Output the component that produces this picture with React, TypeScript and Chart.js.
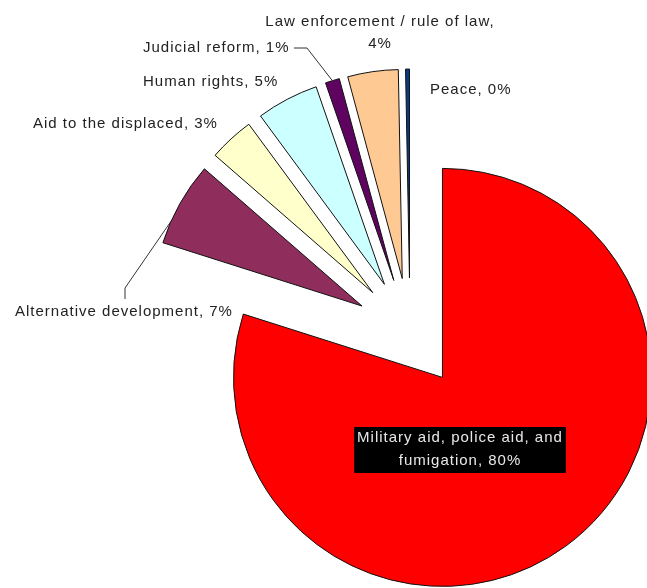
import { useEffect, useRef } from "react";
import { Chart, registerables } from "chart.js";

Chart.register(...registerables);

// ---- data ----
const categories = [
  "Military aid, police aid, and fumigation",
  "Alternative development",
  "Aid to the displaced",
  "Human rights",
  "Judicial reform",
  "Law enforcement / rule of law",
  "Peace",
];
const shares = [79.9, 6.5, 3.5, 4.8, 1.1, 3.9, 0.3];
const percentLabels = ["80%", "7%", "3%", "5%", "1%", "4%", "0%"];
const sliceColors = ["#FF0000", "#8F2D5C", "#FFFFCC", "#CCFFFF", "#5F0360", "#FFC993", "#0A3A80"];

// ---- label layout (annotation positions, not data) ----
type LabelSpec = {
  x: number;
  y: number;
  align: CanvasTextAlign;
  maxWidth: number;
  boxed?: boolean;
  leader?: number[][];
  frac?: number;
};
const labelLayout: LabelSpec[] = [
  { x: 460, y: 438, align: "center", maxWidth: 240, boxed: true },
  { x: 15, y: 312, align: "left", maxWidth: 400, leader: [[125, 299], [125, 288]], frac: 0.27 },
  { x: 33, y: 124, align: "left", maxWidth: 400 },
  { x: 143, y: 82, align: "left", maxWidth: 400 },
  { x: 143, y: 48, align: "left", maxWidth: 400, leader: [[294, 48], [307, 48]], frac: 0.5 },
  { x: 380, y: 22, align: "center", maxWidth: 255 },
  { x: 430, y: 90, align: "left", maxWidth: 400 },
];

const EXPLODE = 55;
const RADIUS = 209;
const FONT = '15px "Liberation Sans", Arial, sans-serif';
const LINE_H = 22;

function wrap(ctx: CanvasRenderingContext2D, text: string, maxWidth: number): string[] {
  const words = text.split(" ");
  const lines: string[] = [];
  let cur = "";
  for (const w of words) {
    const t = cur ? cur + " " + w : w;
    if (cur && ctx.measureText(t).width > maxWidth) {
      lines.push(cur);
      cur = w;
    } else cur = t;
  }
  if (cur) lines.push(cur);
  return lines;
}

const explodePlugin = {
  id: "explode",
  afterDatasetsUpdate(chart: any) {
    const meta = chart.getDatasetMeta(0);
    meta.data.forEach((arc: any) => {
      const mid = (arc.startAngle + arc.endAngle) / 2;
      arc.x += Math.cos(mid) * EXPLODE;
      arc.y += Math.sin(mid) * EXPLODE;
    });
  },
};

const labelPlugin = {
  id: "sliceLabels",
  afterDraw(chart: any) {
    const ctx: CanvasRenderingContext2D = chart.ctx;
    const meta = chart.getDatasetMeta(0);
    ctx.save();
    ctx.font = FONT;
    (ctx as any).letterSpacing = "1px";
    ctx.textBaseline = "middle";
    labelLayout.forEach((spec, i) => {
      const text = `${categories[i]}, ${percentLabels[i]}`;
      const lines = wrap(ctx, text, spec.maxWidth);
      if (spec.leader) {
        const arc = meta.data[i];
        const a = arc.startAngle + (spec.frac ?? 0.5) * (arc.endAngle - arc.startAngle);
        const ex = arc.x + Math.cos(a) * arc.outerRadius;
        const ey = arc.y + Math.sin(a) * arc.outerRadius;
        ctx.beginPath();
        ctx.strokeStyle = "#333";
        ctx.lineWidth = 1;
        ctx.moveTo(spec.leader[0][0], spec.leader[0][1]);
        for (let k = 1; k < spec.leader.length; k++) ctx.lineTo(spec.leader[k][0], spec.leader[k][1]);
        ctx.lineTo(ex, ey);
        ctx.stroke();
      }
      const lh = spec.boxed ? 23 : LINE_H;
      if (spec.boxed) {
        const w = Math.max(...lines.map((l) => ctx.measureText(l).width));
        ctx.fillStyle = "#000";
        ctx.fillRect(spec.x - w / 2 - 3, spec.y - 11, w + 6, lh * (lines.length - 1) + 23);
        ctx.fillStyle = "#E8E8E8";
      } else {
        ctx.fillStyle = "#222";
      }
      ctx.textAlign = spec.align;
      lines.forEach((l, k) => ctx.fillText(l, spec.x, spec.y + k * lh));
    });
    ctx.restore();
  },
};

export default function App() {
  const ref = useRef<HTMLCanvasElement | null>(null);
  useEffect(() => {
    if (!ref.current) return;
    const chart = new Chart(ref.current, {
      type: "pie",
      data: {
        labels: categories,
        datasets: [
          {
            data: shares,
            backgroundColor: sliceColors,
            borderColor: "#111",
            borderWidth: 1,
            radius: RADIUS,
          } as any,
        ],
      },
      options: {
        responsive: false,
        animation: false,
        events: [],
        radius: RADIUS,
        layout: { padding: { left: 173, top: 78, right: 0, bottom: 0 } },
        plugins: { legend: { display: false }, tooltip: { enabled: false } },
      } as any,
      plugins: [explodePlugin, labelPlugin],
    });
    return () => chart.destroy();
  }, []);
  return (
    <div style={{ position: "fixed", left: 0, top: 0, width: 647, height: 588, background: "#fff" }}>
      <canvas ref={ref} width={647} height={588} />
    </div>
  );
}
